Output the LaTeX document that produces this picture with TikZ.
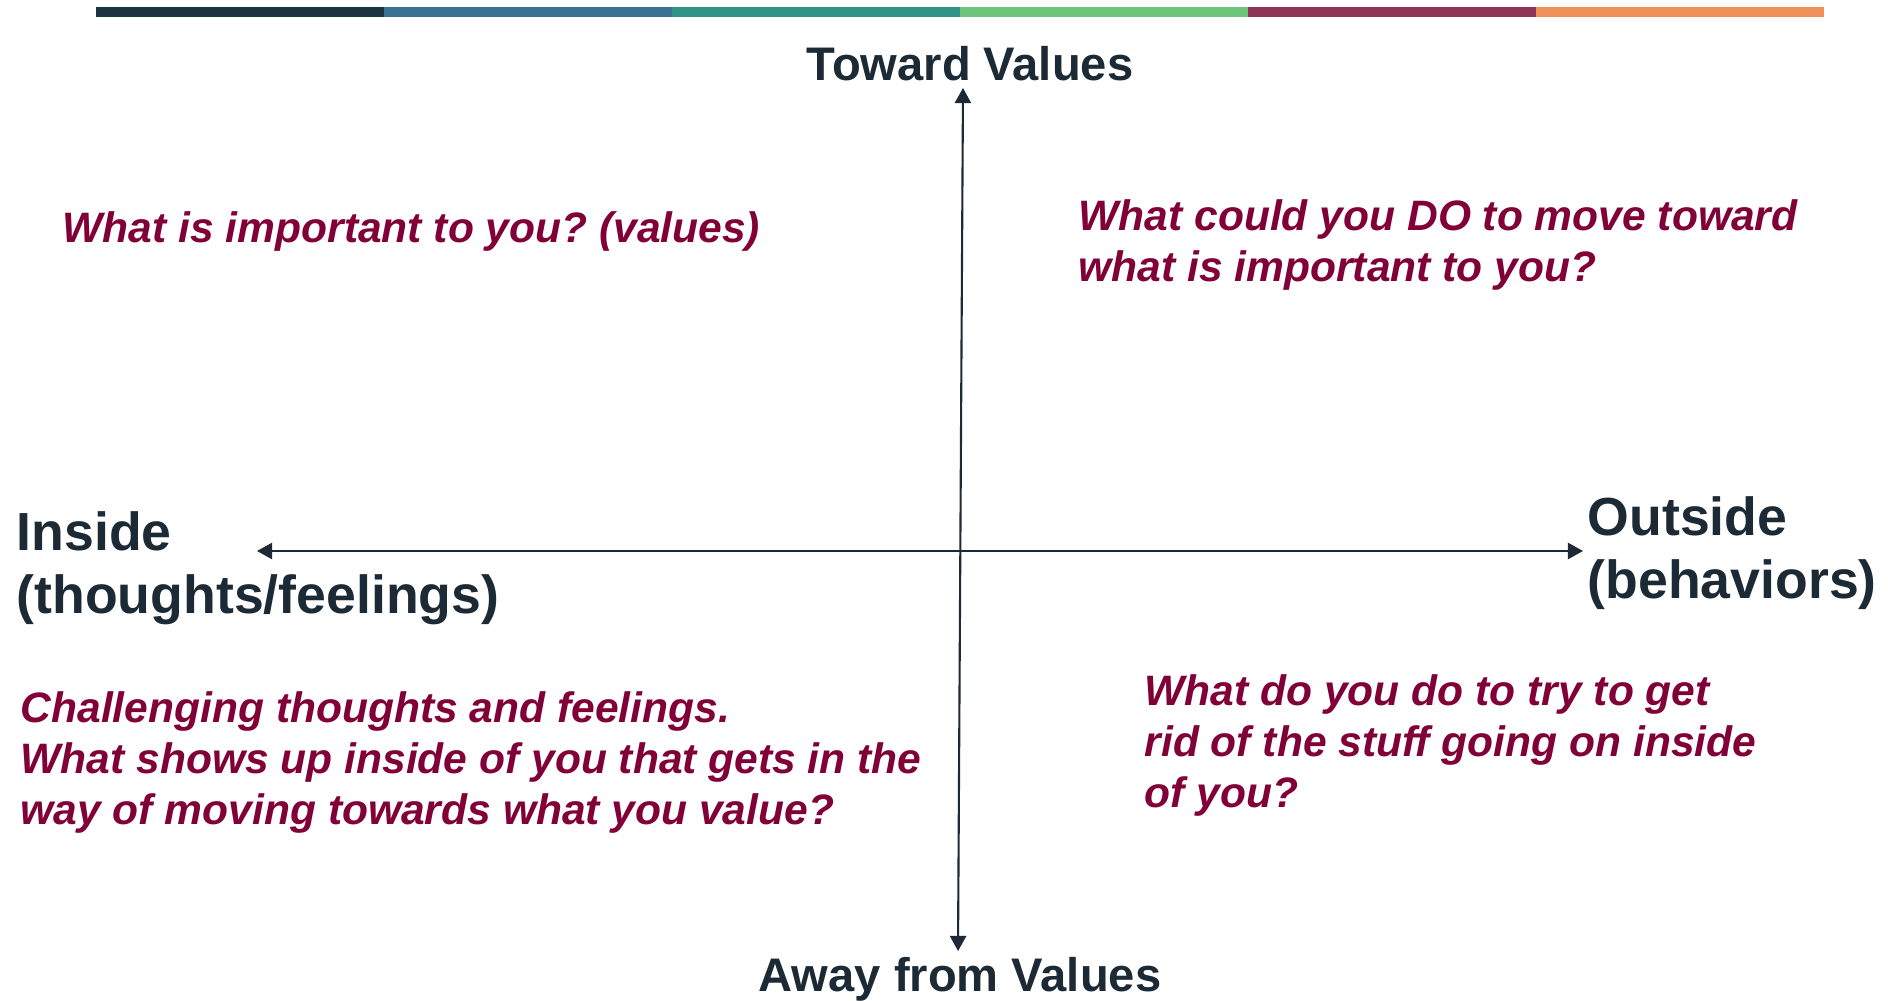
\documentclass[tikz,border=0pt]{standalone}
\usepackage{fontspec}
\setmainfont{Liberation Sans}
\usetikzlibrary{arrows.meta}
\definecolor{ink}{HTML}{1B2A35}
\definecolor{wine}{HTML}{800037}
\definecolor{barA}{HTML}{1C3341}
\definecolor{barB}{HTML}{38728F}
\definecolor{barC}{HTML}{2F9284}
\definecolor{barD}{HTML}{6DC57C}
\definecolor{barE}{HTML}{8E3457}
\definecolor{barF}{HTML}{EE9259}
\frenchspacing
\begin{document}
\begin{tikzpicture}[x=0.01cm, y=-0.01cm, axis/.style={ink, line width=0.6pt, {Triangle[length=4.3pt, width=4.6pt]}-{Triangle[length=4.3pt, width=4.6pt]}}, pole/.style={ink, font=\fontsize{13.4}{16}\bfseries, inner sep=0, anchor=base}, side/.style={ink, font=\fontsize{15.25}{17.9}\bfseries, inner sep=0, anchor=base west, align=left}, ask/.style={wine, font=\fontsize{12.1}{14.4}\bfseries\itshape, inner sep=0, anchor=base west, align=left}]
		\useasboundingbox (0,0) rectangle (1888,1000);
		\foreach \c [count=\i from 0] in {barA, barB, barC, barD, barE, barF}
			\fill[\c] (96+288*\i,7) rectangle ++(288,10);
		\coordinate (up) at (963,88); \coordinate (down) at (958,951); \coordinate (in) at (257,551); \coordinate (out) at (1583,551);
	
		\draw[axis] (down) -- (up);
		\draw[axis] (in) -- (out);
		% multi-line nodes sit on the baseline of their last line
		\node[pole] (toward) at (970,80) {Toward Values}; \node[pole] (away) at (960,991) {Away from Values};
		\node[side] (inside) at (16,613) {Inside\\(thoughts/feelings)}; \node[side] (outside) at (1587,598) {Outside\\(behaviors)};
		\node[ask] (values) at (62,242) {What is important to you? (values)};
		\node[ask] (doing) at (1078,281) {What could you DO to move toward\\what is important to you?};
		\node[ask] (barriers) at (20,824) {Challenging thoughts and feelings.\\What shows up inside of you that gets in the\\way of moving towards what you value?};
		\node[ask] (avoiding) at (1144,807) {What do you do to try to get\\rid of the stuff going on inside\\of you?};
	\end{tikzpicture}
\end{document}
